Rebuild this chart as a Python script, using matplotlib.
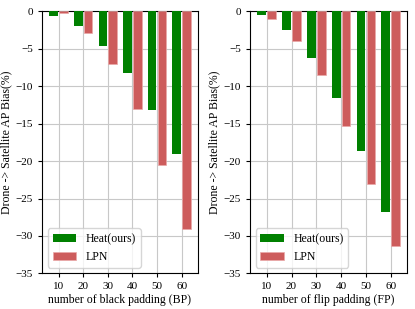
import matplotlib
matplotlib.use('Agg')
import matplotlib.pyplot as plt
import numpy as np

plt.rcParams['font.family'] = ['Liberation Serif', 'DejaVu Serif']
plt.rcParams['font.size'] = 8

# Datos
paddings = [10, 20, 30, 40, 50, 60]
heat_bp = [-0.6, -2.0, -4.7, -8.3, -13.2, -19.0]
lpn_bp = [-0.3, -2.9, -7.1, -13.1, -20.5, -29.1]
heat_fp = [-0.5, -2.5, -6.3, -11.6, -18.7, -26.8]
lpn_fp = [-1.1, -4.0, -8.5, -15.3, -23.0, -31.3]

fig = plt.figure(figsize=(4.15, 3.09), dpi=100)
ax1 = fig.add_axes([0.101, 0.115, 0.376, 0.849])
ax2 = fig.add_axes([0.602, 0.115, 0.379, 0.849])

def draw_panel(ax, heat, lpn, xlabel):
    x = np.array(paddings)
    ax.bar(x - 2, heat, width=3.5, color='green', label='Heat(ours)', zorder=3)
    ax.bar(x + 2, lpn, width=3.5, color='indianred', edgecolor='#eaa8a8',
           linewidth=0.5, label='LPN', zorder=3)
    ax.set_xlim(3.2, 66.6)
    ax.set_ylim(-35, 0)
    ax.set_xticks(paddings)
    ax.set_yticks(np.arange(-35, 1, 5))
    ax.tick_params(labelsize=8, length=3)
    ax.grid(True, color='#c8c8c8', linewidth=0.8, zorder=0)
    ax.set_xlabel(xlabel, fontsize=8.5, labelpad=2)
    ax.set_ylabel('Drone -> Satellite AP Bias(%)', fontsize=8.5, labelpad=2)
    ax.legend(loc='lower left', fontsize=8.5)

draw_panel(ax1, heat_bp, lpn_bp, 'number of black padding (BP)')
draw_panel(ax2, heat_fp, lpn_fp, 'number of flip padding (FP)')

fig.savefig('out.png', dpi=100)
